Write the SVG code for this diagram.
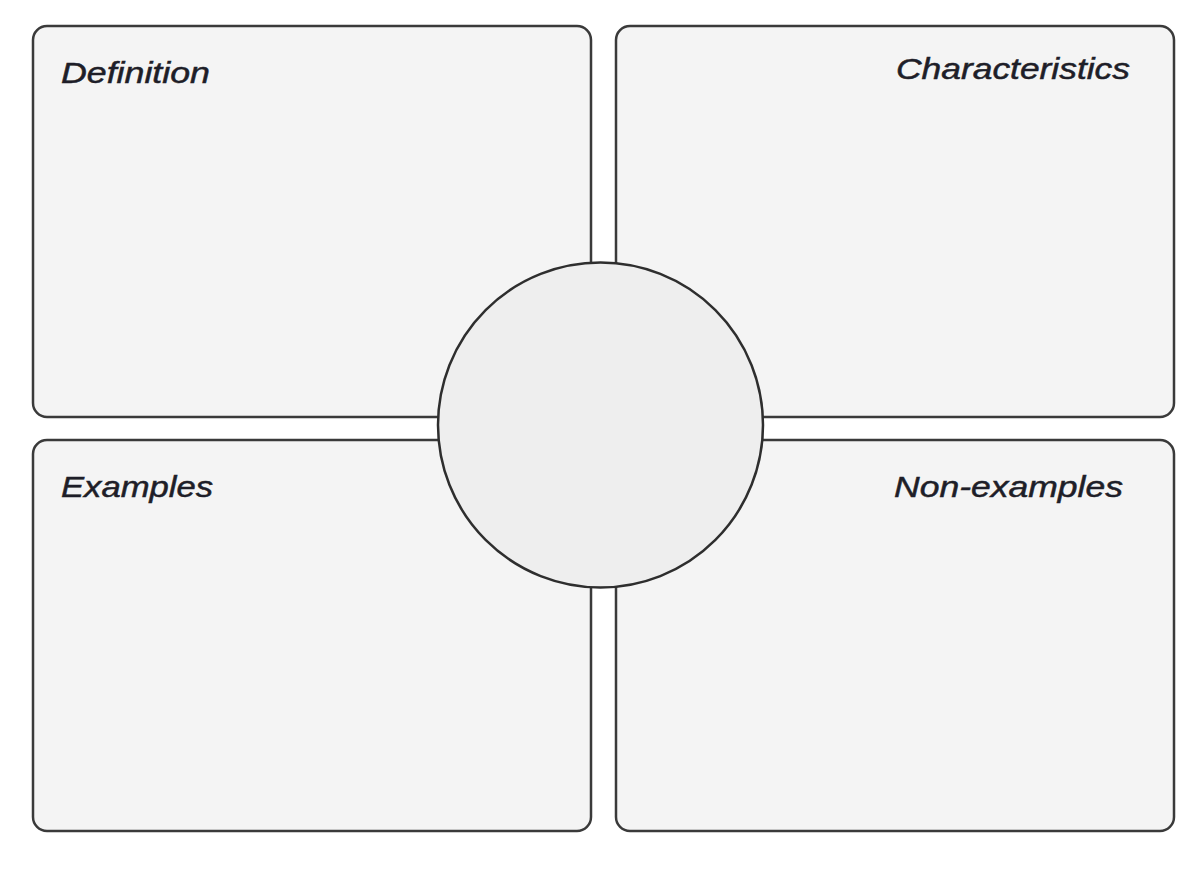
<svg xmlns="http://www.w3.org/2000/svg" width="1200" height="870" viewBox="0 0 1200 870">
<style>
.box{fill:#f4f4f4;stroke:#3a3a3a;stroke-width:2.5}
.hub{fill:#eeeeee;stroke:#2e2e2e;stroke-width:2.5}
.lbl{font-family:"Liberation Sans",Arial,Helvetica,sans-serif;font-style:italic;font-size:30px;fill:#1e1e28;stroke:#1e1e28;stroke-width:0.5}
</style>
<rect width="1200" height="870" fill="#ffffff"/>
<g id="definition">
<rect class="box" x="33" y="26" width="558" height="391" rx="14"/>
<text class="lbl" x="61" y="83" textLength="149" lengthAdjust="spacingAndGlyphs">Definition</text>
</g>
<g id="characteristics">
<rect class="box" x="616" y="26" width="558" height="391" rx="14"/>
<text class="lbl" x="896" y="79" textLength="234" lengthAdjust="spacingAndGlyphs">Characteristics</text>
</g>
<g id="examples">
<rect class="box" x="33" y="440" width="558" height="391" rx="14"/>
<text class="lbl" x="61" y="497" textLength="152" lengthAdjust="spacingAndGlyphs">Examples</text>
</g>
<g id="non-examples">
<rect class="box" x="616" y="440" width="558" height="391" rx="14"/>
<text class="lbl" x="894" y="497" textLength="229" lengthAdjust="spacingAndGlyphs">Non-examples</text>
</g>
<g id="center">
<circle class="hub" cx="600.5" cy="425" r="162.5"/>
</g>
<g id="connectors"></g>
</svg>
